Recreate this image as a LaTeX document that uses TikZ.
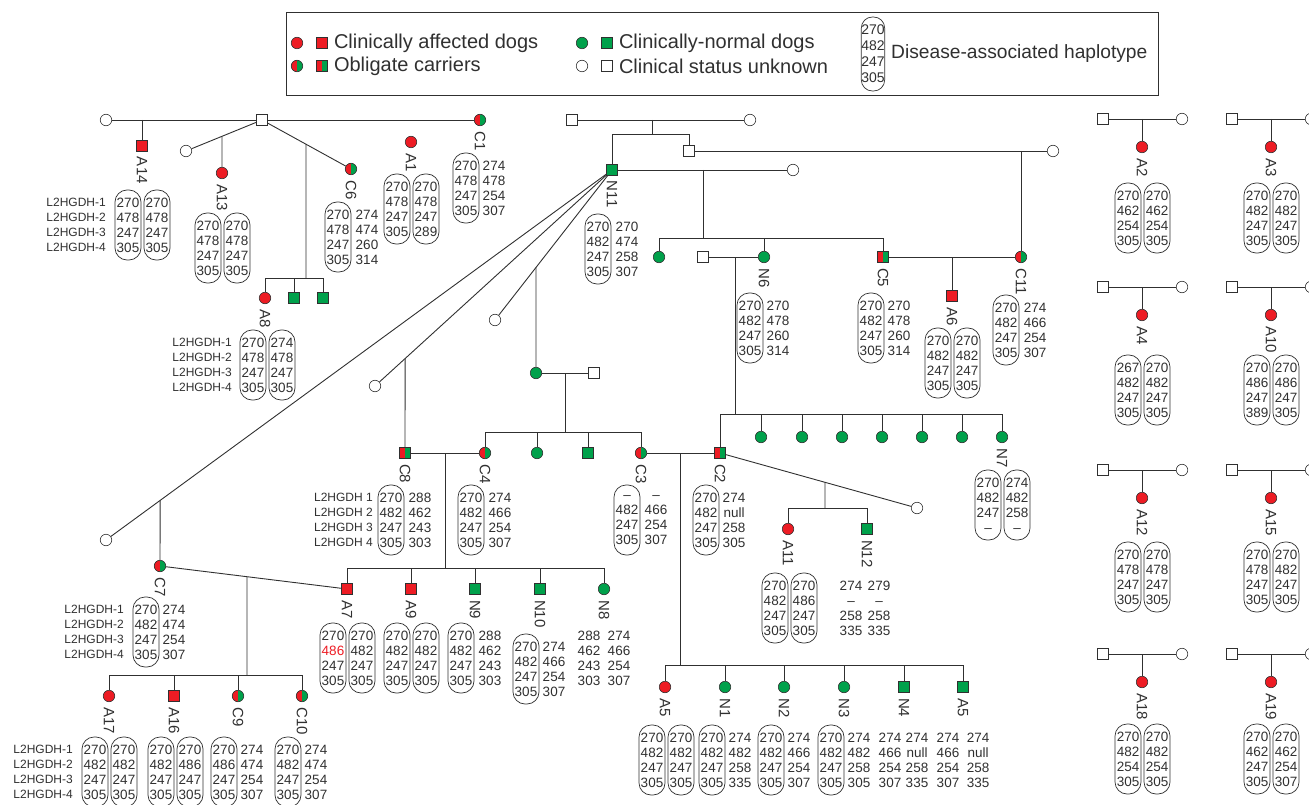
\documentclass[tikz,border=0pt]{standalone}
\usepackage{fontspec}
\setmainfont{Liberation Sans}
\usetikzlibrary{calc,positioning}
\definecolor{Red}  {HTML}{ED1C24}
\definecolor{Green}{HTML}{00A14B}
\definecolor{Ink}  {HTML}{303030}
\newcommand\numfont{\fontsize{13.5}{15}\selectfont}
\newcommand\locfont{\fontsize{12}{15}\selectfont}
\newcommand\tagfont{\fontsize{15}{15}\selectfont}
\newcommand\legfont{\fontsize{20}{23}\selectfont}
\tikzset{
  ind/.style={draw=Ink, line width=0.6pt, minimum size=11.5pt, inner sep=0pt},
  fem/.style={ind, circle},
  mal/.style={ind, rectangle, minimum size=11pt},
  aff/.style={fill=Red},
  nrm/.style={fill=Green},
  unk/.style={fill=white},
  car/.style={fill=Green, path picture={\fill[Red] (path picture bounding box.south west)
              rectangle (path picture bounding box.north);}},
  ped/.style={draw=Ink, line width=0.9pt},
  tag/.style={font=\tagfont, rotate=-90, anchor=west, inner sep=0pt, text=Ink},
  pill/.style={draw=Ink, line width=0.7pt, rounded corners=12pt, minimum width=26pt,
               minimum height=70pt, inner sep=0pt, align=center, font=\numfont, text=Ink},
  col/.style={inner sep=0pt, align=center, font=\numfont, text=Ink},
  loci/.style={inner sep=0pt, align=right, anchor=east, font=\locfont, text=Ink},
  leg/.style={inner sep=0pt, font=\legfont, text=Ink}
}
\begin{document}
\begin{tikzpicture}[x=1pt,y=-1pt]
  \useasboundingbox (0,0) rectangle (1309,805);
  \clip (0,0) rectangle (1309,805);

  \node[draw=Ink, line width=0.8pt, minimum width=872pt, minimum height=83pt, inner sep=0pt,
        anchor=north west] (key) at (286,12) {};
  \node[fem,aff] (kAf) at (297,43) {};
  \node[mal,aff] (kAm) at (322,43) {};
  \node[leg, right=6pt of kAm] (kAt) {Clinically affected dogs};
  \node[fem,car] (kCf) at (297,66) {};
  \node[mal,car] (kCm) at (322,66) {};
  \node[leg, right=6pt of kCm] (kCt) {Obligate carriers};
  \node[fem,nrm] (kNf) at (582,43) {};
  \node[mal,nrm] (kNm) at (607,43) {};
  \node[leg, right=6pt of kNm] (kNt) {Clinically-normal dogs};
  \node[fem,unk] (kUf) at (582,66) {};
  \node[mal,unk] (kUm) at (607,66) {};
  \node[leg, right=6pt of kUm] (kUt) {Clinical status unknown};
  \node[pill, minimum width=23pt, minimum height=74pt, rounded corners=11pt,
        font=\fontsize{14}{16}\selectfont] (kH) at (873,54) {270\\482\\247\\305};
  \node[leg, right=6pt of kH, font=\fontsize{19.2}{23}\selectfont] (kHt)
    {Disease-associated haplotype};

  \node[fem,unk] (d1)  at (106,120) {};
  \node[mal,unk] (s1)  at (262,120) {};
  \node[fem,car] (C1)  at (480,120) {};
  \node[mal,aff] (A14) at (142,146) {};
  \node[fem,unk] (d2)  at (186,151) {};
  \node[fem,aff] (A13) at (222,173) {};
  \node[fem,car] (C6)  at (351,169) {};
  \node[fem,aff] (A8)  at (265,298) {};
  \node[mal,nrm] (n8a) at (294,298) {};
  \node[mal,nrm] (n8b) at (323,298) {};
  \node[fem,aff] (A1)  at (411,142) {};
  \draw[ped] (d1) -- (s1) -- (C1);
  \coordinate (jA14) at (A14 |- s1);
  \draw[ped] (jA14) -- (A14);
  \draw[ped] (s1) -- (d2);
  \coordinate (jA13) at ($(s1)!.526!(d2)$);
  \draw[ped] (jA13) -- (A13);
  \draw[ped] (s1) -- (C6);
  \coordinate (jC6) at ($(s1)!.494!(C6)$);
  \coordinate (bC6) at (306,278);
  \draw[ped] (jC6) -- (bC6);
  \draw[ped] (A8 |- bC6) -- (n8b |- bC6);
  \foreach \k in {A8,n8a,n8b} \draw[ped] (\k) -- (\k |- bC6);

  \node[mal,unk] (s2)  at (572,120) {};
  \node[fem,unk] (d3)  at (750,120) {};
  \node[mal,nrm] (N11) at (612,170) {};
  \node[mal,unk] (s3)  at (689,151) {};
  \draw[ped] (s2) -- (d3);
  \coordinate (j2) at (652,120);
  \coordinate (b2) at (652,134);
  \draw[ped] (j2) -- (b2);
  \draw[ped] (N11) -- (N11 |- b2) -- (s3 |- b2) -- (s3);

  \node[fem,unk] (d4)  at (1053,151) {};
  \node[fem,car] (C11) at (1021,257) {};
  \draw[ped] (s3) -- (d4);
  \draw[ped] (C11 |- d4) -- (C11);

  \node[fem,unk] (d5) at (793,170) {};
  \draw[ped] (N11) -- (d5);
  \coordinate (j5) at (703,170);
  \coordinate (b5) at (703,238);
  \node[fem,nrm] (g5) at (659,257) {};
  \node[fem,nrm] (N6) at (764,257) {};
  \node[mal,car] (C5) at (883,257) {};
  \draw[ped] (j5) -- (b5);
  \draw[ped] (g5 |- b5) -- (C5 |- b5);
  \foreach \k in {g5,N6,C5} \draw[ped] (\k) -- (\k |- b5);

  \node[mal,unk] (s6) at (703,257) {};
  \draw[ped] (s6) -- (N6);
  \coordinate (j6) at (735,257);
  \coordinate (b6) at (735,414);
  \draw[ped] (j6) -- (b6);
  \node[mal,car] (C2) at (720,453) {};
  \foreach \x [count=\i] in {761,802,842,882,922,962} \node[fem,nrm] (g6\i) at (\x,437) {};
  \node[fem,nrm] (N7) at (1002,437) {};
  \draw[ped] (C2 |- b6) -- (N7 |- b6);
  \foreach \k in {C2,g61,g62,g63,g64,g65,g66,N7} \draw[ped] (\k) -- (\k |- b6);

  \draw[ped] (C5) -- (C11);
  \node[mal,aff] (A6) at (952,296) {};
  \draw[ped] (A6 |- C5) -- (A6);

  \node[fem,unk] (d7) at (106,540) {};
  \node[fem,unk] (d8) at (375,386) {};
  \node[fem,unk] (d9) at (495,320) {};
  \foreach \k in {d7,d8,d9} \draw[ped] (N11) -- (\k);
  \node[fem,car] (C7) at (160,566) {};
  \node[mal,car] (C8) at (405,453) {};
  \node[fem,nrm] (g9) at (536,373) {};
  \coordinate (jC7) at ($(N11)!.893!(d7)$);
  \coordinate (jC8) at ($(N11)!.873!(d8)$);
  \coordinate (jg9) at ($(N11)!.65!(d9)$);
  \draw[ped] (jC7) -- (C7);
  \draw[ped] (jC8) -- (C8);
  \draw[ped] (jg9) -- (g9);

  \node[mal,unk] (s9) at (594,373) {};
  \draw[ped] (g9) -- (s9);
  \coordinate (j9) at (565,373);
  \coordinate (b9) at (565,432);
  \node[fem,car] (C4)  at (485,453) {};
  \node[fem,nrm] (g9a) at (537,453) {};
  \node[mal,nrm] (g9b) at (588,453) {};
  \node[fem,car] (C3)  at (641,453) {};
  \draw[ped] (j9) -- (b9);
  \draw[ped] (C4 |- b9) -- (C3 |- b9);
  \foreach \k in {C4,g9a,g9b,C3} \draw[ped] (\k) -- (\k |- b9);

  \draw[ped] (C8) -- (C4);
  \coordinate (j8) at (445,453);
  \coordinate (b8) at (445,568);
  \node[mal,aff] (A7)  at (347,589) {};
  \node[mal,aff] (A9)  at (411,589) {};
  \node[mal,nrm] (N9)  at (475,589) {};
  \node[mal,nrm] (N10) at (540,589) {};
  \node[fem,nrm] (N8)  at (604,589) {};
  \draw[ped] (j8) -- (b8);
  \draw[ped] (A7 |- b8) -- (N8 |- b8);
  \foreach \k in {A7,A9,N9,N10,N8} \draw[ped] (\k) -- (\k |- b8);

  \draw[ped] (C7) -- (A7);
  \coordinate (j7) at ($(C7)!.465!(A7)$);
  \coordinate (b7) at (247,675);
  \draw[ped] (j7) -- (b7);
  \node[fem,aff] (A17) at (109,696) {};
  \node[mal,aff] (A16) at (174,696) {};
  \node[fem,car] (C9)  at (238,696) {};
  \node[fem,car] (C10) at (302,696) {};
  \draw[ped] (A17 |- b7) -- (C10 |- b7);
  \foreach \k in {A17,A16,C9,C10} \draw[ped] (\k) -- (\k |- b7);

  \draw[ped] (C3) -- (C2);
  \coordinate (j3) at (680,453);
  \coordinate (b3) at (680,665);
  \node[fem,aff] (A5)  at (665,687) {};
  \node[fem,nrm] (N1)  at (725,687) {};
  \node[fem,nrm] (N2)  at (784,687) {};
  \node[fem,nrm] (N3)  at (844,687) {};
  \node[mal,nrm] (N4)  at (904,687) {};
  \node[mal,nrm] (A5n) at (963,687) {};
  \draw[ped] (j3) -- (b3);
  \draw[ped] (A5 |- b3) -- (A5n |- b3);
  \foreach \k in {A5,N1,N2,N3,N4,A5n} \draw[ped] (\k) -- (\k |- b3);

  \node[fem,unk] (d10) at (917,508) {};
  \draw[ped] (C2) -- (d10);
  \coordinate (j10) at ($(C2)!.533!(d10)$);
  \coordinate (b10) at (825,508);
  \node[fem,aff] (A11) at (788,529) {};
  \node[mal,nrm] (N12) at (867,529) {};
  \draw[ped] (j10) -- (b10);
  \draw[ped] (A11 |- b10) -- (N12 |- b10);
  \foreach \k in {A11,N12} \draw[ped] (\k) -- (\k |- b10);

  \foreach \k/\x/\y in {A2/1142/119,A3/1271/119,A4/1142/287,A10/1271/287,
                        A12/1142/470,A15/1271/470,A18/1142/654,A19/1271/654}{
    \node[mal,unk] (s\k) at (\x-39,\y) {};
    \node[fem,unk] (d\k) at (\x+40,\y) {};
    \node[fem,aff] (\k)  at (\x,\y+28) {};
    \draw[ped] (s\k) -- (d\k);
    \draw[ped] (\k |- s\k) -- (\k);
  }

  \foreach \k in {A14,A13,C6,A1,C1,A8,N11,N6,C5,A6,C11,N7,C8,C4,C3,C2,A11,N12,C7,A7,A9,
                  N9,N10,N8,A17,A16,C9,C10,A5,N1,N2,N3,N4,A2,A3,A4,A10,A12,A15,A18,A19}
    \node[tag] (t\k) at ([yshift=-5pt]\k.south) {\k};
  \node[tag] (tA5n) at ([yshift=-5pt]A5n.south) {A5};

  \node[loci] (lA14) at (106,225) {L2HGDH-1\\L2HGDH-2\\L2HGDH-3\\L2HGDH-4};
  \node[loci] (lA8)  at (232,365) {L2HGDH-1\\L2HGDH-2\\L2HGDH-3\\L2HGDH-4};
  \node[loci] (lC8)  at (373,520) {L2HGDH 1\\L2HGDH 2\\L2HGDH 3\\L2HGDH 4};
  \node[loci] (lC7)  at (124,632) {L2HGDH-1\\L2HGDH-2\\L2HGDH-3\\L2HGDH-4};
  \node[loci] (lA17) at (73,772)  {L2HGDH-1\\L2HGDH-2\\L2HGDH-3\\L2HGDH-4};

  \foreach \n/\x/\y/\la/\lb/\lc/\ld in {
      hA14a/128/225/270/478/247/305, hA14b/157/225/270/478/247/305,
      hA13a/208/248/270/478/247/305, hA13b/237/248/270/478/247/305,
      hC6/338/237/270/478/247/305,
      hA1a/397/209/270/478/247/305, hA1b/426/209/270/478/247/289,
      hC1/466/188/270/478/247/305,
      hA8a/253/365/270/478/247/305, hA8b/282/365/274/478/247/305,
      hN11/598/249/270/482/247/305,
      hN6/750/328/270/482/247/305,
      hC5/871/328/270/482/247/305,
      hA6a/938/363/270/482/247/305, hA6b/967/363/270/482/247/305,
      hC11/1006/330/270/482/247/305,
      hN7a/988/505/270/482/247/\textendash, hN7b/1017/505/274/482/258/\textendash,
      hC8/391/520/270/482/247/305,
      hC4/471/520/270/482/247/305,
      hC3/627/520/\textendash/482/247/305,
      hC2/706/520/270/482/247/305,
      hA11a/775/608/270/482/247/305, hA11b/804/608/270/486/247/305,
      hC7/146/632/270/482/247/305,
      hA17a/95/772/270/482/247/305, hA17b/124/772/270/482/247/305,
      hA16a/161/772/270/482/247/305, hA16b/190/772/270/486/247/305,
      hC9/224/772/270/486/247/305,
      hC10/288/772/270/482/247/305,
      hA7a/333/658/270/\textcolor{Red}{486}/247/305, hA7b/362/658/270/482/247/305,
      hA9a/397/658/270/482/247/305, hA9b/426/658/270/482/247/305,
      hN9/461/658/270/482/247/305,
      hN10/526/669/270/482/247/305,
      hA5a/652/760/270/482/247/305, hA5b/681/760/270/482/247/305,
      hN1/712/760/270/482/247/305,
      hN2/771/760/270/482/247/305,
      hN3/831/760/270/482/247/305,
      hA2a/1128/218/270/462/254/305, hA2b/1157/218/270/462/254/305,
      hA3a/1257/218/270/482/247/305, hA3b/1286/218/270/482/247/305,
      hA4a/1128/390/267/482/247/305, hA4b/1157/390/270/482/247/305,
      hA10a/1257/390/270/486/247/389, hA10b/1286/390/270/486/247/305,
      hA12a/1128/577/270/478/247/305, hA12b/1157/577/270/478/247/305,
      hA15a/1257/577/270/478/247/305, hA15b/1286/577/270/482/247/305,
      hA18a/1128/759/270/482/254/305, hA18b/1157/759/270/482/254/305,
      hA19a/1257/759/270/462/247/305, hA19b/1286/759/270/462/254/307}
    \node[pill] (\n) at (\x,\y) {\la\\\lb\\\lc\\\ld};

  \foreach \n/\x/\y/\la/\lb/\lc/\ld in {
      cC6/367/237/274/474/260/314,
      cC1/494/188/274/478/254/307,
      cN11/627/249/270/474/258/307,
      cN6/778/328/270/478/260/314,
      cC5/899/328/270/478/260/314,
      cC11/1035/330/274/466/254/307,
      cC8/420/520/288/462/243/303,
      cC4/500/520/274/466/254/307,
      cC3/656/520/\textendash/466/254/307,
      cC2/734/520/274/null/258/305,
      cN12a/851/608/274/\textendash/258/335, cN12b/879/608/279/\textendash/258/335,
      cC7/174/632/274/474/254/307,
      cC9/252/772/274/474/254/307,
      cC10/316/772/274/474/254/307,
      cN9/490/658/288/462/243/303,
      cN10/554/669/274/466/254/307,
      cN8a/589/658/288/462/243/303, cN8b/619/658/274/466/254/307,
      cN1/740/760/274/482/258/335,
      cN2/799/760/274/466/254/307,
      cN3/859/760/274/482/258/305,
      cN4a/890/760/274/466/254/307, cN4b/917/760/274/null/258/335,
      cA5a/948/760/274/466/254/307, cA5b/978/760/274/null/258/335}
    \node[col] (\n) at (\x,\y) {\la\\\lb\\\lc\\\ld};
\end{tikzpicture}
\end{document}
